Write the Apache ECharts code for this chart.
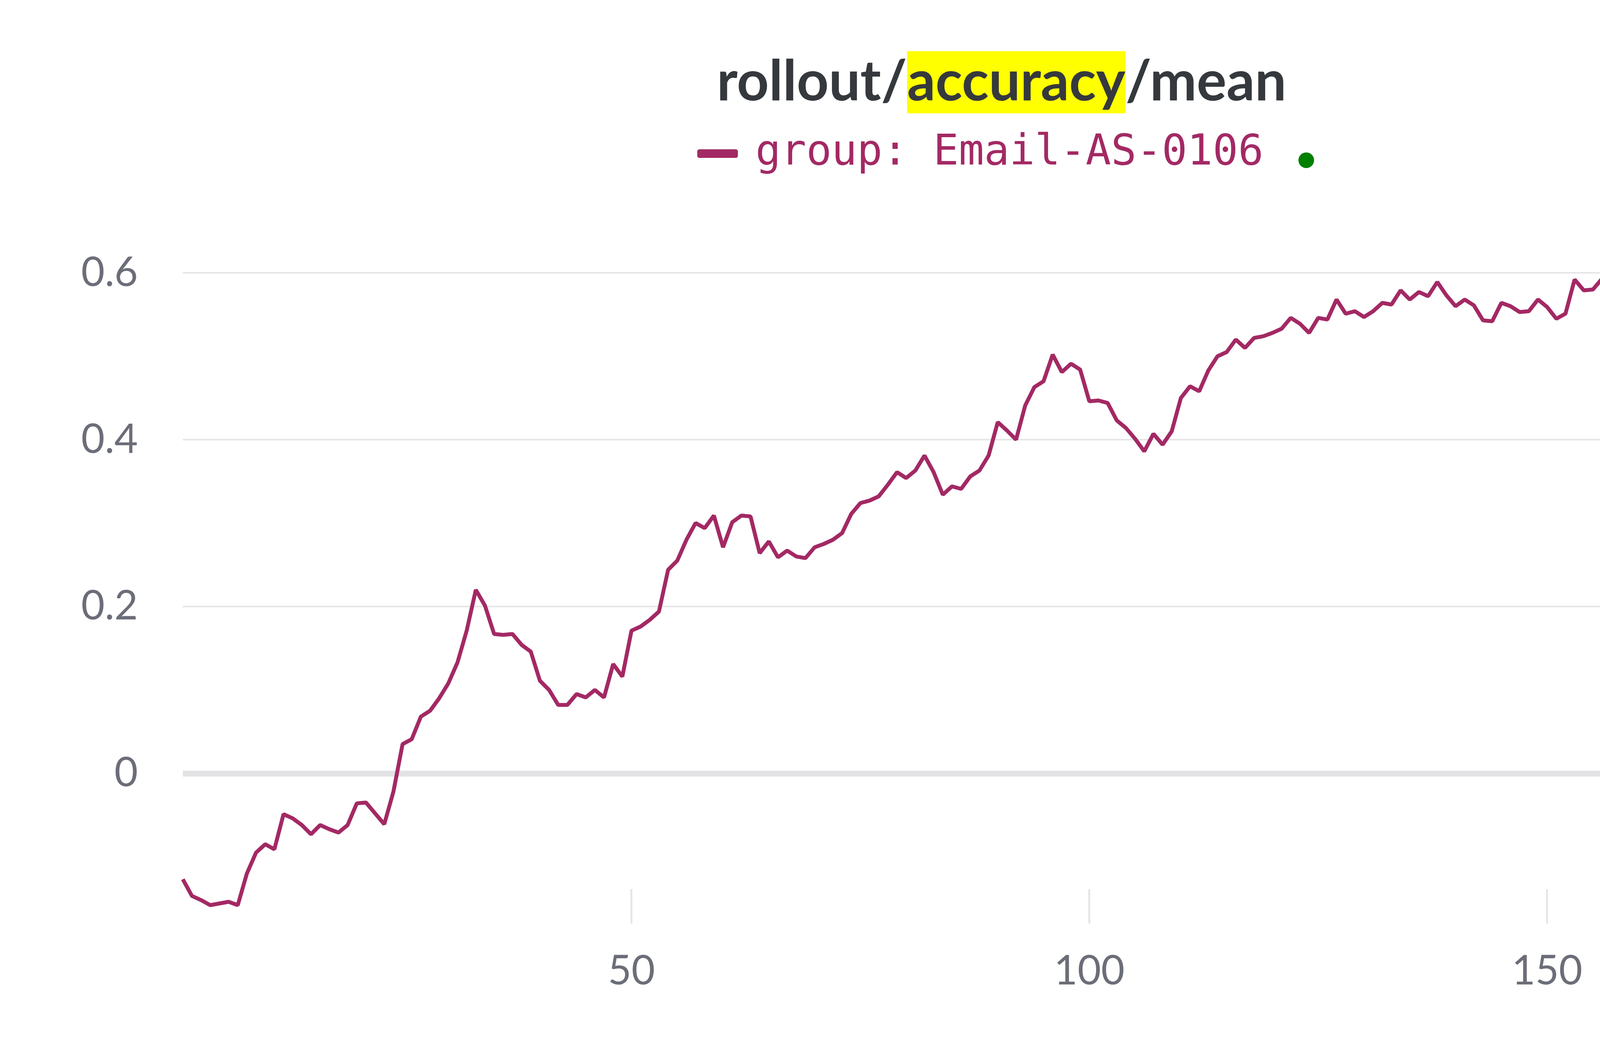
<!DOCTYPE html>
<html>
<head>
<meta charset="utf-8">
<script src="https://cdn.jsdelivr.net/npm/echarts@6/dist/echarts.min.js"></script>
<style>
  html, body { margin: 0; padding: 0; background: #fff; overflow: hidden; }
  #chart { width: 5056px; height: 2656px; }
</style>
</head>
<body>
<div id="chart"></div>
<script>
// rollout/accuracy/mean, one value per step (1..187)
const accuracy = [
  -0.127, -0.147, -0.152, -0.158, -0.156, -0.154, -0.158, -0.120, -0.095, -0.085,
  -0.091, -0.049, -0.054, -0.062, -0.073, -0.062, -0.067, -0.071, -0.062, -0.036,
  -0.035, -0.048, -0.061, -0.022, 0.035, 0.041, 0.068, 0.075, 0.090, 0.108,
  0.133, 0.171, 0.220, 0.201, 0.167, 0.166, 0.167, 0.154, 0.146, 0.111,
  0.100, 0.082, 0.082, 0.095, 0.091, 0.100, 0.091, 0.131, 0.116, 0.171,
  0.176, 0.184, 0.194, 0.244, 0.255, 0.280, 0.300, 0.294, 0.309, 0.271,
  0.301, 0.309, 0.308, 0.264, 0.278, 0.259, 0.267, 0.260, 0.258, 0.271,
  0.275, 0.280, 0.288, 0.311, 0.324, 0.327, 0.332, 0.346, 0.361, 0.354,
  0.363, 0.381, 0.361, 0.334, 0.344, 0.341, 0.356, 0.363, 0.381, 0.421,
  0.411, 0.400, 0.441, 0.463, 0.470, 0.502, 0.481, 0.491, 0.484, 0.446,
  0.447, 0.444, 0.423, 0.414, 0.401, 0.386, 0.407, 0.394, 0.410, 0.450,
  0.464, 0.458, 0.483, 0.500, 0.505, 0.520, 0.510, 0.522, 0.524, 0.528,
  0.533, 0.546, 0.539, 0.528, 0.546, 0.544, 0.568, 0.551, 0.554, 0.547,
  0.554, 0.564, 0.562, 0.579, 0.568, 0.577, 0.572, 0.589, 0.573, 0.560,
  0.568, 0.561, 0.543, 0.542, 0.564, 0.560, 0.553, 0.554, 0.568, 0.559,
  0.545, 0.551, 0.592, 0.579, 0.580, 0.593, 0.617, 0.616, 0.628, 0.639,
  0.624, 0.646, 0.648, 0.674, 0.658, 0.663, 0.667, 0.664, 0.672, 0.662,
  0.690, 0.676, 0.660, 0.650, 0.639, 0.629, 0.588, 0.583, 0.538, 0.580,
  0.570, 0.548, 0.568, 0.580, 0.603, 0.611, 0.648
];
const firstStep = 1;
const xTicks = [50, 100, 150];
const yTicks = [0, 0.2, 0.4, 0.6];
const runName = 'group: Email-AS-0106';

const points = accuracy.map((v, i) => [firstStep + i, v]);
const lastPoint = points[points.length - 1];

const lineColor = '#a32964';
const labelColor = '#6b6d78';
const gridColor = '#e6e6e8';
const sans = 'Lato, "Noto Sans", sans-serif';

const chart = echarts.init(document.getElementById('chart'));

const option = {
  backgroundColor: '#ffffff',
  animation: false,
  title: {
    left: 1830,
    top: 126,
    text: '{a|rollout/}{b|accuracy}{a|/mean}',
    textStyle: {
      rich: {
        a: { fontFamily: sans, fontWeight: 'bold', fontSize: 143, color: '#35393d' },
        b: {
          fontFamily: sans, fontWeight: 'bold', fontSize: 143, color: '#35393d',
          backgroundColor: '#ffff00', padding: [8, 0, 8, 0]
        }
      }
    }
  },
  legend: {
    left: 1780,
    top: 334,
    data: [runName],
    icon: 'roundRect',
    itemWidth: 104,
    itemHeight: 22,
    textStyle: {
      rich: {
        s: { width: 40, height: 10 },
        n: { fontFamily: '"DejaVu Sans Mono", monospace', fontSize: 108, color: lineColor }
      }
    },
    formatter: name => '{s| }{n|' + name + '}'
  },
  grid: {
    left: 468,
    right: 228,
    top: 442,
    bottom: 293,
    containLabel: false
  },
  xAxis: {
    type: 'value',
    min: firstStep,
    max: lastPoint[0],
    axisLine: { show: false, onZero: false },
    splitLine: { show: false },
    axisTick: {
      show: true,
      inside: true,
      length: 88,
      customValues: xTicks,
      lineStyle: { color: gridColor, width: 5 }
    },
    axisLabel: {
      customValues: xTicks,
      margin: 70,
      fontFamily: sans,
      fontSize: 104,
      color: labelColor
    }
  },
  yAxis: {
    type: 'value',
    min: -0.18,
    max: 0.72,
    axisLine: { show: false },
    axisTick: { show: false, customValues: yTicks },
    splitLine: { show: true, lineStyle: { color: gridColor, width: 4 } },
    axisLabel: {
      customValues: yTicks,
      margin: 115,
      fontFamily: sans,
      fontSize: 104,
      color: labelColor,
      formatter: v => (v === 0 ? '0' : String(v))
    }
  },
  graphic: [
    {
      type: 'text',
      right: 5056 - 4775,
      top: 2178,
      style: {
        text: 'Step',
        fontFamily: sans,
        fontSize: 104,
        fill: labelColor,
        textAlign: 'right'
      }
    },
    {
      // status dot after the legend entry
      type: 'circle',
      shape: { cx: 3344, cy: 410, r: 20 },
      style: { fill: '#008000' }
    }
  ],
  series: [
    {
      name: runName,
      type: 'line',
      data: points,
      showSymbol: false,
      z: 3,
      lineStyle: { color: lineColor, width: 10 },
      itemStyle: { color: lineColor },
      markLine: {
        silent: true,
        symbol: 'none',
        z: 1,
        label: { show: false },
        lineStyle: { color: '#e3e3e6', width: 15, type: 'solid' },
        data: [{ yAxis: 0 }]
      }
    },
    {
      name: 'last',
      type: 'scatter',
      data: [lastPoint],
      symbolSize: 36,
      z: 4,
      itemStyle: { color: lineColor, opacity: 1 }
    }
  ]
};

chart.setOption(option);
window.onresize = chart.resize;
</script>
</body>
</html>
